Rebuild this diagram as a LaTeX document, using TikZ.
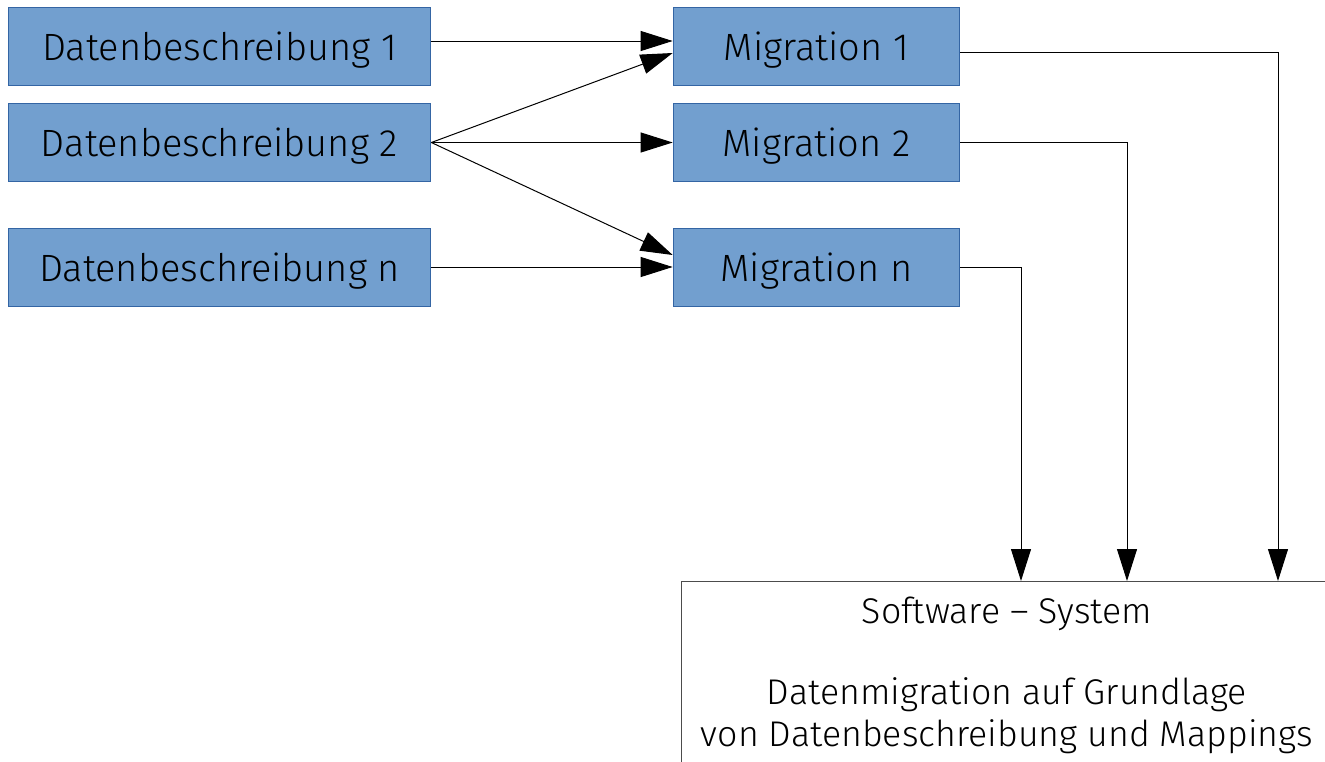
\documentclass[tikz,border=0pt]{standalone}
\usepackage{fontspec}
\setmainfont{Fira Sans Light}
\usetikzlibrary{arrows.meta}

\definecolor{boxfill}{HTML}{729FCF}
\definecolor{boxline}{HTML}{3465A4}

\begin{document}
\begin{tikzpicture}[x=0.75pt,y=-0.75pt,
    font=\fontsize{28.5}{31.5}\selectfont,
    desc/.style={draw=boxline, fill=boxfill, line width=0.75pt, minimum width=317pt, minimum height=58.5pt, inner sep=0pt, text depth=0pt},
    migr/.style={draw=boxline, fill=boxfill, line width=0.75pt, minimum width=215pt, minimum height=58.5pt, inner sep=0pt, text depth=0pt},
    link/.style={line width=0.75pt, -{Triangle[length=24pt,width=15pt]}}]

\useasboundingbox (0,0) rectangle (1325,761);
\clip (0,0) rectangle (1325,761);

% --- Data descriptions ---
\node[desc] (d1) at (219.5,46) {Datenbeschreibung 1};
\node[desc] (d2) at (219.5,142.5) {Datenbeschreibung 2};
\node[desc] (dn) at (219.5,267) {Datenbeschreibung n};

% --- Migrations ---
\node[migr] (m1) at (816.5,46) {Migration 1};
\node[migr] (m2) at (816.5,142.5) {Migration 2};
\node[migr] (mn) at (816.5,267) {Migration n};

% --- Software system (cut off at the border) ---
\node[draw=black!70, line width=0.75pt, anchor=north west, minimum width=492pt, minimum height=150pt] (sys) at (681,581) {};
\node[anchor=north, align=center, inner sep=0pt, font=\fontsize{26.8}{31.5}\selectfont] (systext) at (1007,597) {Software -- System\\[29pt]Datenmigration auf Grundlage\\von Datenbeschreibung und Mappings};

% Arrows
\draw[link] ([yshift=3.75pt]d1.east) -- ([yshift=3.75pt]m1.west);
\draw[link] (d2.east) -- ([yshift=-5.25pt]m1.west);
\draw[link] (d2.east) -- (m2.west);
\draw[link] (d2.east) -- ([yshift=9pt]mn.west);
\draw[link] (dn.east) -- (mn.west);

\draw[link] ([yshift=-4.5pt]m1.east) -| (1278,0 |- sys.north);
\draw[link] (m2.east) -| (1127,0 |- sys.north);
\draw[link] (mn.east) -| (1021,0 |- sys.north);

\end{tikzpicture}
\end{document}
